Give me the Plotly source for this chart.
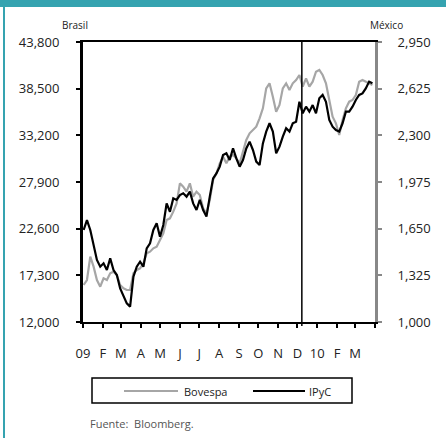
import pandas as pd
import plotly.graph_objects as go

# ---------------- data ----------------
start_date = "2009-01-02"
end_date = "2010-03-28"

bovespa = [16202, 16770, 19420, 18284, 16770, 16013, 16959, 16770, 17527, 17716,
           17338, 16202, 15824, 15634, 15634, 17527, 17906, 18095, 18663, 19799,
           19988, 20366, 20556, 21313, 22070, 23584, 23774, 24531, 25477, 27748,
           27370, 26802, 27748, 26234, 26802, 26423, 24909, 24341, 25856, 28127,
           28884, 30020, 30777, 30020, 30777, 30966, 30588, 30020, 31345, 32670,
           33427, 33806, 34184, 35131, 36266, 38538, 39106, 37591, 35888, 36645,
           38538, 39106, 38348, 39106, 39484, 40052, 38727, 39673, 38727, 39295,
           40431, 40620, 40052, 39106, 37023, 35320, 34563, 33238, 34941, 36266,
           37023, 37213, 37781, 39295, 39484, 39295, 39106, 38916]

ipyc = [1641, 1710, 1641, 1525, 1432, 1385, 1409, 1362, 1443, 1362,
        1327, 1234, 1176, 1130, 1107, 1316, 1385, 1420, 1385, 1513,
        1548, 1641, 1687, 1594, 1676, 1826, 1768, 1861, 1850, 1884,
        1896, 1873, 1908, 1826, 1780, 1850, 1780, 1734, 1873, 2000,
        2035, 2082, 2163, 2175, 2128, 2209, 2140, 2082, 2128, 2209,
        2256, 2198, 2117, 2093, 2244, 2326, 2384, 2326, 2175, 2221,
        2291, 2349, 2326, 2384, 2395, 2534, 2453, 2500, 2465, 2511,
        2453, 2558, 2581, 2534, 2407, 2360, 2337, 2326, 2384, 2465,
        2465, 2500, 2546, 2581, 2592, 2627, 2674, 2662]

dates = pd.date_range(start_date, end_date, periods=len(ipyc))

month_ticks = ["2009-01-01", "2009-02-01", "2009-03-01", "2009-04-01", "2009-05-01",
               "2009-06-01", "2009-07-01", "2009-08-01", "2009-09-01", "2009-10-01",
               "2009-11-01", "2009-12-01", "2010-01-01", "2010-02-01", "2010-03-01",
               "2010-04-01"]
month_labels = ["09", "F", "M", "A", "M", "J", "J", "A", "S", "O", "N", "D",
                "10", "F", "M", ""]

left_ticks = [12000, 17300, 22600, 27900, 33200, 38500, 43800]
right_ticks = [1000, 1325, 1650, 1975, 2300, 2625, 2950]
marker_date = "2009-12-08"

# ---------------- layout helpers (pixel -> paper) ----------------
W, H = 446, 438
PL, PR, PT, PB = 83, 375, 42, 322


def xp(px):
    return (px - PL) / (PR - PL)


def yp(py):
    return (PB - py) / (PB - PT)


FONT = "Open Sans"
GRAY = "#a6a6a6"
TEAL = "#35a3b0"

fig = go.Figure()
fig.add_trace(go.Scatter(x=dates, y=bovespa, name="Bovespa", mode="lines",
                         line=dict(color=GRAY, width=2.2), yaxis="y",
                         showlegend=False))
fig.add_trace(go.Scatter(x=dates, y=ipyc, name="IPyC", mode="lines",
                         line=dict(color="black", width=2.2), yaxis="y2",
                         showlegend=False))

fig.update_layout(
    width=W, height=H,
    margin=dict(l=PL, r=W - PR, t=PT, b=H - PB, pad=0),
    paper_bgcolor="white", plot_bgcolor="white",
    font=dict(family=FONT, size=13, color="#222"),
    xaxis=dict(
        type="date", range=["2009-01-01", "2010-04-01"],
        tickmode="array", tickvals=month_ticks, ticktext=month_labels,
        ticks="outside", ticklen=4, tickwidth=1.5, tickcolor="black",
        showline=True, linecolor="black", linewidth=2, mirror=True,
        showgrid=False, zeroline=False, ticklabelstandoff=14,
        tickfont=dict(size=13, color="#222"),
    ),
    yaxis=dict(
        range=[12000, 43800], tickmode="array", tickvals=left_ticks,
        tickformat=",", ticks="outside", ticklen=4, tickwidth=1.5,
        tickcolor="black", showline=True, linecolor="black", linewidth=3,
        showgrid=False, zeroline=False, ticklabelstandoff=14,
        tickfont=dict(size=13, color="#222"),
    ),
    yaxis2=dict(
        range=[1000, 2950], tickmode="array", tickvals=right_ticks,
        tickformat=",", overlaying="y", side="right", ticks="outside",
        ticklen=4, tickwidth=1.5, tickcolor="#888", showline=True,
        linecolor="#888888", linewidth=3, showgrid=False, zeroline=False,
        ticklabelstandoff=13, tickfont=dict(size=13, color="#222"),
    ),
)

shapes = [
    # vertical marker line
    dict(type="line", xref="x", yref="paper", x0=marker_date, x1=marker_date,
         y0=yp(326), y1=1, line=dict(color="black", width=1.5)),
    # teal frame
    dict(type="rect", xref="paper", yref="paper", x0=xp(0), x1=xp(W),
         y0=yp(0), y1=yp(7), fillcolor=TEAL, line=dict(width=0), layer="above"),
    dict(type="rect", xref="paper", yref="paper", x0=xp(3), x1=xp(5),
         y0=yp(0), y1=yp(H), fillcolor=TEAL, line=dict(width=0), layer="above"),
    # legend box
    dict(type="rect", xref="paper", yref="paper", x0=xp(92), x1=xp(352),
         y0=yp(378), y1=yp(403), line=dict(color="black", width=1.5)),
    dict(type="line", xref="paper", yref="paper", x0=xp(124), x1=xp(178),
         y0=yp(391), y1=yp(391), line=dict(color=GRAY, width=2)),
    dict(type="line", xref="paper", yref="paper", x0=xp(253), x1=xp(305),
         y0=yp(391), y1=yp(391), line=dict(color="black", width=2)),
]

annotations = [
    dict(text="Brasil", x=xp(75), y=yp(25), xref="paper", yref="paper",
         showarrow=False, xanchor="center", yanchor="middle",
         font=dict(size=10, color="#222")),
    dict(text="México", x=xp(386), y=yp(25), xref="paper", yref="paper",
         showarrow=False, xanchor="center", yanchor="middle",
         font=dict(size=10, color="#222")),
    dict(text="Bovespa", x=xp(182), y=yp(391), xref="paper", yref="paper",
         showarrow=False, xanchor="left", yanchor="middle",
         font=dict(size=11, color="#222")),
    dict(text="IPyC", x=xp(307), y=yp(391), xref="paper", yref="paper",
         showarrow=False, xanchor="left", yanchor="middle",
         font=dict(size=11, color="#222")),
    dict(text="Fuente:  Bloomberg.", x=xp(88), y=yp(423), xref="paper",
         yref="paper", showarrow=False, xanchor="left", yanchor="middle",
         font=dict(size=11, color="#555")),
]

fig.update_layout(shapes=shapes, annotations=annotations)
fig.write_html("out.html",
               config={"displayModeBar": False},
               post_script="document.body.style.margin='0px';"
                           "document.body.style.padding='0px';")
